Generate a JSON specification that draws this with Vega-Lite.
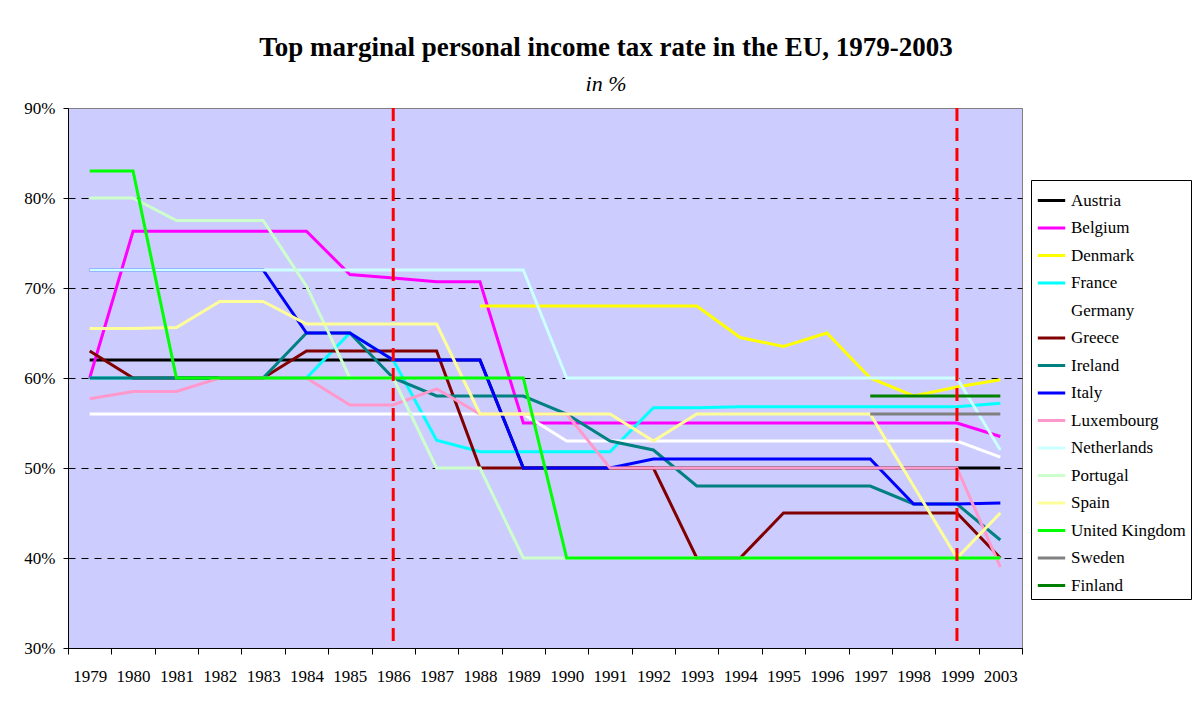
{
  "$schema": "https://vega.github.io/schema/vega-lite/v6.json",
  "width": 954,
  "height": 540,
  "autosize": {"type": "none"},
  "padding": {"left": 68, "top": 108, "right": 176, "bottom": 54},
  "background": "white",
  "title": {
    "text": "Top marginal personal income tax rate in the EU, 1979-2003",
    "subtitle": "in %",
    "font": "Liberation Serif",
    "fontSize": 27,
    "fontWeight": "bold",
    "color": "black",
    "subtitleFont": "Liberation Serif",
    "subtitleFontStyle": "italic",
    "subtitleFontSize": 22,
    "subtitleColor": "black",
    "anchor": "middle",
    "frame": "group",
    "dx": 61,
    "offset": 3,
    "subtitlePadding": 12
  },
  "config": {
    "font": "Liberation Serif",
    "view": {"fill": "#CCCCFF", "stroke": "#808080", "strokeWidth": 1},
    "axis": {
      "labelFont": "Liberation Serif",
      "labelFontSize": 17,
      "labelColor": "black",
      "domainColor": "black",
      "tickColor": "black",
      "title": null
    },
    "legend": {
      "labelFont": "Liberation Serif"
    }
  },
  "datasets": {
    "rates": [
      {"c":"Austria","yr":"1979","val":62},{"c":"Austria","yr":"1980","val":62},{"c":"Austria","yr":"1981","val":62},{"c":"Austria","yr":"1982","val":62},{"c":"Austria","yr":"1983","val":62},{"c":"Austria","yr":"1984","val":62},{"c":"Austria","yr":"1985","val":62},{"c":"Austria","yr":"1986","val":62},{"c":"Austria","yr":"1987","val":62},{"c":"Austria","yr":"1988","val":62},{"c":"Austria","yr":"1989","val":50},{"c":"Austria","yr":"1990","val":50},{"c":"Austria","yr":"1991","val":50},{"c":"Austria","yr":"1992","val":50},{"c":"Austria","yr":"1993","val":50},{"c":"Austria","yr":"1994","val":50},{"c":"Austria","yr":"1995","val":50},{"c":"Austria","yr":"1996","val":50},{"c":"Austria","yr":"1997","val":50},{"c":"Austria","yr":"1998","val":50},{"c":"Austria","yr":"1999","val":50},{"c":"Austria","yr":"2003","val":50},
      {"c":"Belgium","yr":"1979","val":60},{"c":"Belgium","yr":"1980","val":76.3},{"c":"Belgium","yr":"1981","val":76.3},{"c":"Belgium","yr":"1982","val":76.3},{"c":"Belgium","yr":"1983","val":76.3},{"c":"Belgium","yr":"1984","val":76.3},{"c":"Belgium","yr":"1985","val":71.5},{"c":"Belgium","yr":"1986","val":71.1},{"c":"Belgium","yr":"1987","val":70.7},{"c":"Belgium","yr":"1988","val":70.7},{"c":"Belgium","yr":"1989","val":55},{"c":"Belgium","yr":"1990","val":55},{"c":"Belgium","yr":"1991","val":55},{"c":"Belgium","yr":"1992","val":55},{"c":"Belgium","yr":"1993","val":55},{"c":"Belgium","yr":"1994","val":55},{"c":"Belgium","yr":"1995","val":55},{"c":"Belgium","yr":"1996","val":55},{"c":"Belgium","yr":"1997","val":55},{"c":"Belgium","yr":"1998","val":55},{"c":"Belgium","yr":"1999","val":55},{"c":"Belgium","yr":"2003","val":53.5},
      {"c":"Denmark","yr":"1988","val":68},{"c":"Denmark","yr":"1989","val":68},{"c":"Denmark","yr":"1990","val":68},{"c":"Denmark","yr":"1991","val":68},{"c":"Denmark","yr":"1992","val":68},{"c":"Denmark","yr":"1993","val":68},{"c":"Denmark","yr":"1994","val":64.5},{"c":"Denmark","yr":"1995","val":63.5},{"c":"Denmark","yr":"1996","val":65},{"c":"Denmark","yr":"1997","val":60},{"c":"Denmark","yr":"1998","val":58},{"c":"Denmark","yr":"1999","val":59},{"c":"Denmark","yr":"2003","val":59.8},
      {"c":"France","yr":"1979","val":60},{"c":"France","yr":"1980","val":60},{"c":"France","yr":"1981","val":60},{"c":"France","yr":"1982","val":60},{"c":"France","yr":"1983","val":60},{"c":"France","yr":"1984","val":60},{"c":"France","yr":"1985","val":65},{"c":"France","yr":"1986","val":62},{"c":"France","yr":"1987","val":53.1},{"c":"France","yr":"1988","val":51.8},{"c":"France","yr":"1989","val":51.8},{"c":"France","yr":"1990","val":51.8},{"c":"France","yr":"1991","val":51.8},{"c":"France","yr":"1992","val":56.7},{"c":"France","yr":"1993","val":56.7},{"c":"France","yr":"1994","val":56.8},{"c":"France","yr":"1995","val":56.8},{"c":"France","yr":"1996","val":56.8},{"c":"France","yr":"1997","val":56.8},{"c":"France","yr":"1998","val":56.8},{"c":"France","yr":"1999","val":56.8},{"c":"France","yr":"2003","val":57.2},
      {"c":"Germany","yr":"1979","val":56},{"c":"Germany","yr":"1980","val":56},{"c":"Germany","yr":"1981","val":56},{"c":"Germany","yr":"1982","val":56},{"c":"Germany","yr":"1983","val":56},{"c":"Germany","yr":"1984","val":56},{"c":"Germany","yr":"1985","val":56},{"c":"Germany","yr":"1986","val":56},{"c":"Germany","yr":"1987","val":56},{"c":"Germany","yr":"1988","val":56},{"c":"Germany","yr":"1989","val":56},{"c":"Germany","yr":"1990","val":53},{"c":"Germany","yr":"1991","val":53},{"c":"Germany","yr":"1992","val":53},{"c":"Germany","yr":"1993","val":53},{"c":"Germany","yr":"1994","val":53},{"c":"Germany","yr":"1995","val":53},{"c":"Germany","yr":"1996","val":53},{"c":"Germany","yr":"1997","val":53},{"c":"Germany","yr":"1998","val":53},{"c":"Germany","yr":"1999","val":53},{"c":"Germany","yr":"2003","val":51.2},
      {"c":"Greece","yr":"1979","val":63},{"c":"Greece","yr":"1980","val":60},{"c":"Greece","yr":"1981","val":60},{"c":"Greece","yr":"1982","val":60},{"c":"Greece","yr":"1983","val":60},{"c":"Greece","yr":"1984","val":63},{"c":"Greece","yr":"1985","val":63},{"c":"Greece","yr":"1986","val":63},{"c":"Greece","yr":"1987","val":63},{"c":"Greece","yr":"1988","val":50},{"c":"Greece","yr":"1989","val":50},{"c":"Greece","yr":"1990","val":50},{"c":"Greece","yr":"1991","val":50},{"c":"Greece","yr":"1992","val":50},{"c":"Greece","yr":"1993","val":40},{"c":"Greece","yr":"1994","val":40},{"c":"Greece","yr":"1995","val":45},{"c":"Greece","yr":"1996","val":45},{"c":"Greece","yr":"1997","val":45},{"c":"Greece","yr":"1998","val":45},{"c":"Greece","yr":"1999","val":45},{"c":"Greece","yr":"2003","val":40},
      {"c":"Ireland","yr":"1979","val":60},{"c":"Ireland","yr":"1980","val":60},{"c":"Ireland","yr":"1981","val":60},{"c":"Ireland","yr":"1982","val":60},{"c":"Ireland","yr":"1983","val":60},{"c":"Ireland","yr":"1984","val":65},{"c":"Ireland","yr":"1985","val":65},{"c":"Ireland","yr":"1986","val":60},{"c":"Ireland","yr":"1987","val":58},{"c":"Ireland","yr":"1988","val":58},{"c":"Ireland","yr":"1989","val":58},{"c":"Ireland","yr":"1990","val":56},{"c":"Ireland","yr":"1991","val":53},{"c":"Ireland","yr":"1992","val":52},{"c":"Ireland","yr":"1993","val":48},{"c":"Ireland","yr":"1994","val":48},{"c":"Ireland","yr":"1995","val":48},{"c":"Ireland","yr":"1996","val":48},{"c":"Ireland","yr":"1997","val":48},{"c":"Ireland","yr":"1998","val":46},{"c":"Ireland","yr":"1999","val":46},{"c":"Ireland","yr":"2003","val":42},
      {"c":"Italy","yr":"1979","val":72},{"c":"Italy","yr":"1980","val":72},{"c":"Italy","yr":"1981","val":72},{"c":"Italy","yr":"1982","val":72},{"c":"Italy","yr":"1983","val":72},{"c":"Italy","yr":"1984","val":65},{"c":"Italy","yr":"1985","val":65},{"c":"Italy","yr":"1986","val":62},{"c":"Italy","yr":"1987","val":62},{"c":"Italy","yr":"1988","val":62},{"c":"Italy","yr":"1989","val":50},{"c":"Italy","yr":"1990","val":50},{"c":"Italy","yr":"1991","val":50},{"c":"Italy","yr":"1992","val":51},{"c":"Italy","yr":"1993","val":51},{"c":"Italy","yr":"1994","val":51},{"c":"Italy","yr":"1995","val":51},{"c":"Italy","yr":"1996","val":51},{"c":"Italy","yr":"1997","val":51},{"c":"Italy","yr":"1998","val":46},{"c":"Italy","yr":"1999","val":46},{"c":"Italy","yr":"2003","val":46.1},
      {"c":"Luxembourg","yr":"1979","val":57.7},{"c":"Luxembourg","yr":"1980","val":58.5},{"c":"Luxembourg","yr":"1981","val":58.5},{"c":"Luxembourg","yr":"1982","val":60},{"c":"Luxembourg","yr":"1983","val":60},{"c":"Luxembourg","yr":"1984","val":60},{"c":"Luxembourg","yr":"1985","val":57},{"c":"Luxembourg","yr":"1986","val":57},{"c":"Luxembourg","yr":"1987","val":58.8},{"c":"Luxembourg","yr":"1988","val":56},{"c":"Luxembourg","yr":"1989","val":56},{"c":"Luxembourg","yr":"1990","val":56},{"c":"Luxembourg","yr":"1991","val":50},{"c":"Luxembourg","yr":"1992","val":50},{"c":"Luxembourg","yr":"1993","val":50},{"c":"Luxembourg","yr":"1994","val":50},{"c":"Luxembourg","yr":"1995","val":50},{"c":"Luxembourg","yr":"1996","val":50},{"c":"Luxembourg","yr":"1997","val":50},{"c":"Luxembourg","yr":"1998","val":50},{"c":"Luxembourg","yr":"1999","val":50},{"c":"Luxembourg","yr":"2003","val":39},
      {"c":"Netherlands","yr":"1979","val":72},{"c":"Netherlands","yr":"1980","val":72},{"c":"Netherlands","yr":"1981","val":72},{"c":"Netherlands","yr":"1982","val":72},{"c":"Netherlands","yr":"1983","val":72},{"c":"Netherlands","yr":"1984","val":72},{"c":"Netherlands","yr":"1985","val":72},{"c":"Netherlands","yr":"1986","val":72},{"c":"Netherlands","yr":"1987","val":72},{"c":"Netherlands","yr":"1988","val":72},{"c":"Netherlands","yr":"1989","val":72},{"c":"Netherlands","yr":"1990","val":60},{"c":"Netherlands","yr":"1991","val":60},{"c":"Netherlands","yr":"1992","val":60},{"c":"Netherlands","yr":"1993","val":60},{"c":"Netherlands","yr":"1994","val":60},{"c":"Netherlands","yr":"1995","val":60},{"c":"Netherlands","yr":"1996","val":60},{"c":"Netherlands","yr":"1997","val":60},{"c":"Netherlands","yr":"1998","val":60},{"c":"Netherlands","yr":"1999","val":60},{"c":"Netherlands","yr":"2003","val":52},
      {"c":"Portugal","yr":"1979","val":80},{"c":"Portugal","yr":"1980","val":80},{"c":"Portugal","yr":"1981","val":77.5},{"c":"Portugal","yr":"1982","val":77.5},{"c":"Portugal","yr":"1983","val":77.5},{"c":"Portugal","yr":"1984","val":70.2},{"c":"Portugal","yr":"1985","val":60},{"c":"Portugal","yr":"1986","val":60},{"c":"Portugal","yr":"1987","val":50},{"c":"Portugal","yr":"1988","val":50},{"c":"Portugal","yr":"1989","val":40},{"c":"Portugal","yr":"1990","val":40},{"c":"Portugal","yr":"1991","val":40},{"c":"Portugal","yr":"1992","val":40},{"c":"Portugal","yr":"1993","val":40},{"c":"Portugal","yr":"1994","val":40},{"c":"Portugal","yr":"1995","val":40},{"c":"Portugal","yr":"1996","val":40},{"c":"Portugal","yr":"1997","val":40},{"c":"Portugal","yr":"1998","val":40},{"c":"Portugal","yr":"1999","val":40},{"c":"Portugal","yr":"2003","val":40},
      {"c":"Spain","yr":"1979","val":65.5},{"c":"Spain","yr":"1980","val":65.5},{"c":"Spain","yr":"1981","val":65.6},{"c":"Spain","yr":"1982","val":68.5},{"c":"Spain","yr":"1983","val":68.5},{"c":"Spain","yr":"1984","val":66},{"c":"Spain","yr":"1985","val":66},{"c":"Spain","yr":"1986","val":66},{"c":"Spain","yr":"1987","val":66},{"c":"Spain","yr":"1988","val":56},{"c":"Spain","yr":"1989","val":56},{"c":"Spain","yr":"1990","val":56},{"c":"Spain","yr":"1991","val":56},{"c":"Spain","yr":"1992","val":53},{"c":"Spain","yr":"1993","val":56},{"c":"Spain","yr":"1994","val":56},{"c":"Spain","yr":"1995","val":56},{"c":"Spain","yr":"1996","val":56},{"c":"Spain","yr":"1997","val":56},{"c":"Spain","yr":"1998","val":48},{"c":"Spain","yr":"1999","val":40},{"c":"Spain","yr":"2003","val":45},
      {"c":"United Kingdom","yr":"1979","val":83},{"c":"United Kingdom","yr":"1980","val":83},{"c":"United Kingdom","yr":"1981","val":60},{"c":"United Kingdom","yr":"1982","val":60},{"c":"United Kingdom","yr":"1983","val":60},{"c":"United Kingdom","yr":"1984","val":60},{"c":"United Kingdom","yr":"1985","val":60},{"c":"United Kingdom","yr":"1986","val":60},{"c":"United Kingdom","yr":"1987","val":60},{"c":"United Kingdom","yr":"1988","val":60},{"c":"United Kingdom","yr":"1989","val":60},{"c":"United Kingdom","yr":"1990","val":40},{"c":"United Kingdom","yr":"1991","val":40},{"c":"United Kingdom","yr":"1992","val":40},{"c":"United Kingdom","yr":"1993","val":40},{"c":"United Kingdom","yr":"1994","val":40},{"c":"United Kingdom","yr":"1995","val":40},{"c":"United Kingdom","yr":"1996","val":40},{"c":"United Kingdom","yr":"1997","val":40},{"c":"United Kingdom","yr":"1998","val":40},{"c":"United Kingdom","yr":"1999","val":40},{"c":"United Kingdom","yr":"2003","val":40},
      {"c":"Sweden","yr":"1997","val":56},{"c":"Sweden","yr":"1998","val":56},{"c":"Sweden","yr":"1999","val":56},{"c":"Sweden","yr":"2003","val":56},
      {"c":"Finland","yr":"1997","val":58},{"c":"Finland","yr":"1998","val":58},{"c":"Finland","yr":"1999","val":58},{"c":"Finland","yr":"2003","val":58}
    ],
    "marks": [{"yr":"1986"},{"yr":"1999"}]
  },
  "layer": [
    {
      "data": {"name": "rates"},
      "mark": {"type": "line", "strokeWidth": 3, "strokeJoin": "miter"},
      "encoding": {
        "x": {
          "field": "yr",
          "type": "ordinal",
          "scale": {
            "type": "band",
            "domain": ["1979","1980","1981","1982","1983","1984","1985","1986","1987","1988","1989","1990","1991","1992","1993","1994","1995","1996","1997","1998","1999","2003"],
            "paddingInner": 0,
            "paddingOuter": 0
          },
          "axis": {
            "tickBand": "extent",
            "tickSize": 6,
            "labelAngle": 0,
            "labelPadding": 14,
            "grid": false,
            "labelFont": "Liberation Serif",
            "labelFontSize": 17
          }
        },
        "y": {
          "field": "val",
          "type": "quantitative",
          "scale": {"domain": [30, 90], "nice": false, "zero": false},
          "axis": {
            "values": [30, 40, 50, 60, 70, 80, 90],
            "labelExpr": "datum.value + '%'",
            "labelFont": "Liberation Serif",
            "grid": true,
            "gridDash": [7, 6],
            "gridColor": {"condition": {"test": "datum.value == 90", "value": "#808080"}, "value": "black"},
            "gridWidth": 1,
            "tickSize": 5,
            "labelPadding": 8
          }
        },
        "color": {
          "field": "c",
          "type": "nominal",
          "scale": {
            "domain": ["Austria","Belgium","Denmark","France","Germany","Greece","Ireland","Italy","Luxembourg","Netherlands","Portugal","Spain","United Kingdom","Sweden","Finland"],
            "range": ["#000000","#FF00FF","#FFFF00","#00FFFF","#FFFFFF","#800000","#008080","#0000FF","#FF99CC","#CCFFFF","#CCFFCC","#FFFF99","#00FF00","#808080","#008000"]
          },
          "legend": {
            "orient": "none",
            "legendX": 963,
            "legendY": 72,
            "title": null,
            "symbolType": "stroke",
            "symbolSize": 750,
            "symbolStrokeWidth": 3,
            "labelFont": "Liberation Serif",
            "labelFontSize": 17,
            "labelColor": "black",
            "labelOffset": 4,
            "labelLimit": 300,
            "strokeColor": "black",
            "fillColor": "white",
            "padding": 5,
            "rowPadding": 3.5
          }
        }
      }
    },
    {
      "data": {"name": "marks"},
      "mark": {"type": "rule", "color": "#FF0000", "strokeWidth": 3, "strokeDash": [13, 7]},
      "encoding": {
        "x": {"field": "yr", "type": "ordinal"}
      }
    }
  ]
}
